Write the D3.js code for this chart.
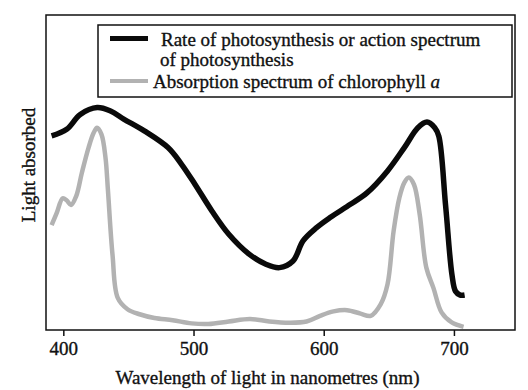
<!DOCTYPE html>
<html>
<head>
<meta charset="utf-8">
<style>
  body { margin: 0; background: #fff; }
  svg text { font-family: "Liberation Serif", "Times New Roman", serif; fill: #111; stroke: #111; stroke-width: 0.35px; }
</style>
</head>
<body>
<svg width="528" height="390"></svg>
<script src="https://cdnjs.cloudflare.com/ajax/libs/d3/7.8.5/d3.min.js"></script>
<script>

// action spectrum (black), wavelength nm / relative light absorbed
var actionNm = [391, 402.6, 413, 426, 436.3, 446.7, 462.2, 480.4, 490.8, 501.2, 514.1, 527.1, 542.7, 555.6, 566, 576.4, 584.1, 594.5, 604.9, 620.5, 633.4, 649, 661.9, 672.3, 679.3, 685.3, 688.4, 693.6, 698.5, 701.2, 704.8, 708.2];
var actionVal = [61.6, 63.7, 68.4, 70.6, 69.5, 66.9, 63.2, 57.9, 52.6, 46.2, 37.8, 30.4, 24.1, 20.9, 19.8, 21.9, 28.3, 32.5, 35.7, 39.9, 43.6, 50.5, 57.9, 64.2, 66.0, 64.2, 61.5, 39.5, 17.5, 12.3, 11.1, 11.1];

// absorption spectrum of chlorophyll a (grey)
var chlNm = [391, 394.8, 399.5, 402.5, 405.9, 409.9, 414.3, 419.4, 423.3, 425.9, 429.3, 432.4, 434.2, 437.8, 441.8, 449.3, 458.6, 470, 484, 498.5, 511.5, 527.1, 543.4, 558.2, 573.8, 586.8, 597.2, 607.5, 617.9, 628.3, 636.1, 643.8, 649, 653.7, 658.1, 661.9, 665.3, 669.3, 673.7, 678.8, 684.3, 690.5, 698.3, 707.4];
var chlVal = [33.3, 37.0, 41.8, 41.2, 39.7, 42.5, 50.0, 57.9, 62.6, 64.2, 62.1, 54.7, 44.8, 23.8, 10.2, 6.6, 5.0, 3.8, 3.1, 2.1, 1.9, 2.7, 3.5, 2.7, 2.3, 2.7, 4.5, 5.9, 6.3, 5.2, 4.5, 8.2, 14.5, 31.5, 42.0, 46.8, 48.4, 46.2, 36.7, 19.8, 13.3, 5.6, 2.4, 1.0];

var xTicks = [400, 500, 600, 700];
var legendLabels = ["Rate of photosynthesis or action spectrum", "of photosynthesis", "Absorption spectrum of chlorophyll "];

var svg = d3.select("svg"),
    m = {left: 46, right: 515, top: 15, bottom: 330};

var x = d3.scaleLinear().domain([386.7, 746.9]).range([m.left, m.right]);
var y = d3.scaleLinear().domain([0, 100]).range([m.bottom, m.top]);

var line = d3.line()
    .x(function(d) { return x(d[0]); })
    .y(function(d) { return y(d[1]); })
    .curve(d3.curveCatmullRom.alpha(0.5));

// frame
svg.append("rect")
    .attr("x", m.left).attr("y", m.top)
    .attr("width", m.right - m.left).attr("height", m.bottom - m.top)
    .attr("fill", "none").attr("stroke", "#111").attr("stroke-width", 1.5);

// x axis
var xAxis = svg.append("g")
    .attr("transform", "translate(0," + m.bottom + ")")
    .call(d3.axisBottom(x).tickValues(xTicks).tickSize(6).tickSizeOuter(0).tickPadding(6));
xAxis.select(".domain").remove();
xAxis.selectAll("line").attr("stroke", "#111").attr("stroke-width", 1.5);
xAxis.selectAll("text")
    .style("font-family", "Liberation Serif")
    .style("font-size", "19px")
    .attr("fill", "#111");

svg.append("text")
    .attr("x", (m.left + m.right) / 2 - 13)
    .attr("y", 384)
    .attr("text-anchor", "middle")
    .style("font-size", "19px")
    .text("Wavelength of light in nanometres (nm)");

svg.append("text")
    .attr("transform", "translate(35,165) rotate(-90)")
    .attr("text-anchor", "middle")
    .style("font-size", "19px")
    .text("Light absorbed");

// curves
svg.append("path")
    .datum(chlNm.map(function(d, i) { return [d, chlVal[i]]; }))
    .attr("d", line)
    .attr("fill", "none")
    .attr("stroke", "#b2b2b2")
    .attr("stroke-width", 4.5);

svg.append("path")
    .datum(actionNm.map(function(d, i) { return [d, actionVal[i]]; }))
    .attr("d", line)
    .attr("fill", "none")
    .attr("stroke", "#0a0a0a")
    .attr("stroke-width", 5.5);

// legend
var lg = svg.append("g");
lg.append("rect")
    .attr("x", 98).attr("y", 25)
    .attr("width", 414).attr("height", 72)
    .attr("fill", "#fff").attr("stroke", "#111").attr("stroke-width", 1.5);
lg.append("line")
    .attr("x1", 110).attr("x2", 148).attr("y1", 38.5).attr("y2", 38.5)
    .attr("stroke", "#0a0a0a").attr("stroke-width", 5);
lg.append("line")
    .attr("x1", 110).attr("x2", 148).attr("y1", 81).attr("y2", 81)
    .attr("stroke", "#b2b2b2").attr("stroke-width", 4);
lg.append("text").attr("x", 161).attr("y", 46).style("font-size", "19px").text(legendLabels[0]);
lg.append("text").attr("x", 160).attr("y", 66).style("font-size", "19px").text(legendLabels[1]);
var t3 = lg.append("text").attr("x", 153).attr("y", 88).style("font-size", "19px").text(legendLabels[2]);
t3.append("tspan").style("font-style", "italic").text("a");

</script>
</body>
</html>
